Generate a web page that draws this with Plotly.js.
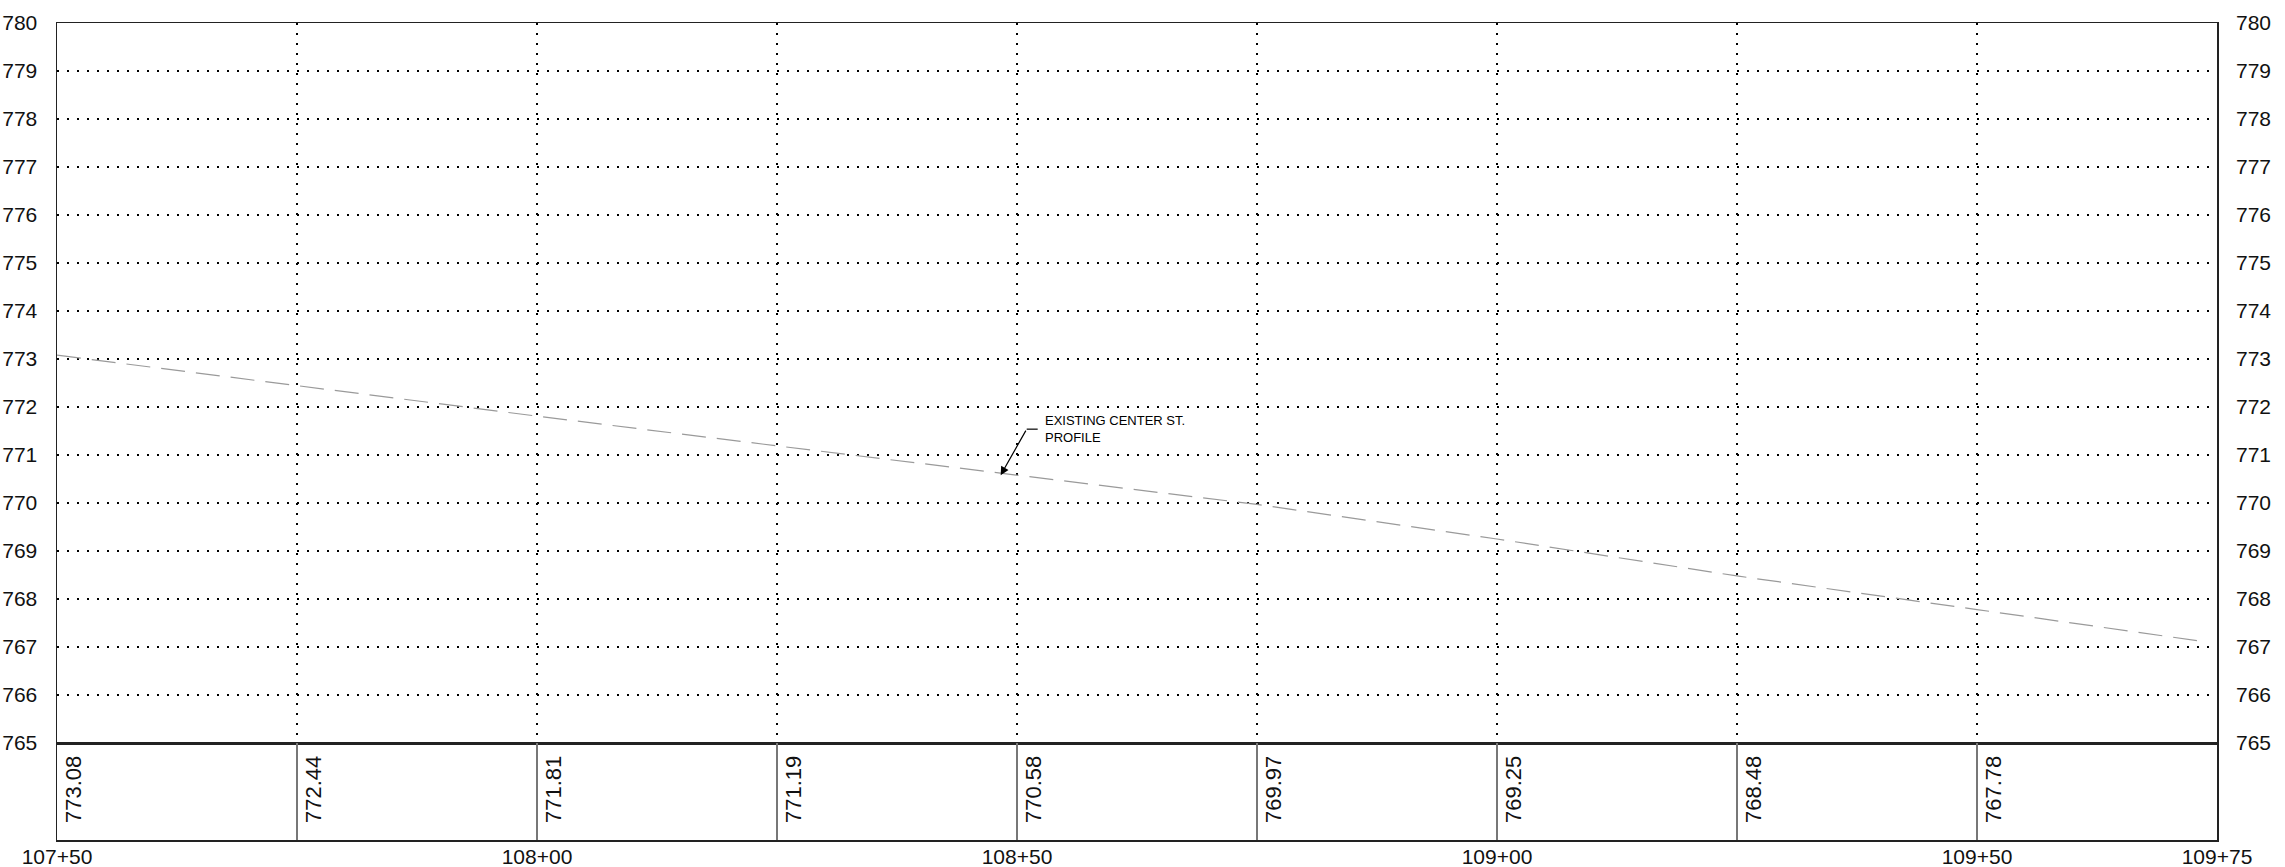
<!DOCTYPE html>
<html>
<head>
<meta charset="utf-8">
<script src="https://cdn.plot.ly/plotly-3.0.1.min.js"></script>
<style>html,body{margin:0;padding:0;background:#fff;}#chart{width:2285px;height:867px;}</style>
</head>
<body>
<div id="chart"></div>
<script>
// Data
const stations = [10750, 10775, 10800, 10825, 10850, 10875, 10900, 10925, 10950];
const bandElev = ["773.08", "772.44", "771.81", "771.19", "770.58", "769.97", "769.25", "768.48", "767.78"];
const profileX = [10750, 10775, 10800, 10825, 10850, 10875, 10900, 10925, 10950, 10973];
const profileY = [773.08, 772.44, 771.81, 771.19, 770.58, 769.97, 769.25, 768.48, 767.78, 767.13];
const xTickVals = [10750, 10775, 10800, 10825, 10850, 10875, 10900, 10925, 10950, 10975];
const xTickText = ["107+50", "", "108+00", "", "108+50", "", "109+00", "", "109+50", "109+75"];
const yTickVals = [765, 766, 767, 768, 769, 770, 771, 772, 773, 774, 775, 776, 777, 778, 779, 780];
const annText = "EXISTING CENTER ST.<br>PROFILE";
const annPoint = [10848.3, 770.58];

const FONT = "Liberation Sans, Arial, sans-serif";
const BAND = 97 / 817;

const traces = [
  {x: profileX, y: profileY, xaxis: 'x', yaxis: 'y', mode: 'lines',
   line: {color: '#9a9a9a', width: 1.2, dash: '24px,11px'}, hoverinfo: 'skip', showlegend: false},
  {x: [10750], y: [770], xaxis: 'x', yaxis: 'y3', mode: 'markers',
   marker: {opacity: 0}, hoverinfo: 'skip', showlegend: false},
  {x: [10750], y: [0.5], xaxis: 'x2', yaxis: 'y2', mode: 'markers',
   marker: {opacity: 0}, hoverinfo: 'skip', showlegend: false}
];

const annotations = stations.map((s, i) => ({
  x: s, y: 0.155, xref: 'x2', yref: 'y2', text: bandElev[i], textangle: -90,
  showarrow: false, xanchor: 'left', yanchor: 'bottom', xshift: 2,
  font: {family: FONT, size: 22, color: '#111'}
}));
annotations.push({
  x: annPoint[0], y: annPoint[1], xref: 'x', yref: 'y', text: '',
  showarrow: true, ax: 26, ay: -46, arrowhead: 2, arrowsize: 1.4, arrowwidth: 1.2,
  arrowcolor: '#000'
});
annotations.push({
  x: annPoint[0], y: annPoint[1], xref: 'x', yref: 'y', text: annText,
  showarrow: false, xanchor: 'left', yanchor: 'middle', align: 'left',
  xshift: 42, yshift: 46, font: {family: FONT, size: 13, color: '#000'}
});

const layout = {
  width: 2285, height: 867,
  margin: {l: 57, r: 68, t: 23, b: 27, pad: 0},
  paper_bgcolor: '#fff', plot_bgcolor: '#fff',
  showlegend: false,
  font: {family: FONT, size: 21, color: '#111'},
  xaxis: {
    domain: [0, 1], anchor: 'y', range: [10750, 10975],
    tickvals: xTickVals, showticklabels: false, ticks: '',
    showgrid: true, gridcolor: '#000', gridwidth: 1.5, griddash: '2px,8px',
    showline: true, linecolor: '#222', linewidth: 1.5, mirror: true, zeroline: false
  },
  yaxis: {
    domain: [BAND, 1], anchor: 'x', range: [765, 780],
    tickvals: yTickVals, ticks: '', ticklabelstandoff: 14,
    tickfont: {family: FONT, size: 21, color: '#111'},
    showgrid: true, gridcolor: '#000', gridwidth: 1.5, griddash: '2px,8px',
    showline: true, linecolor: '#222', linewidth: 1.5, mirror: true, zeroline: false
  },
  yaxis3: {
    overlaying: 'y', side: 'right', anchor: 'x', range: [765, 780],
    tickvals: yTickVals, ticks: '', ticklabelstandoff: 18,
    tickfont: {family: FONT, size: 21, color: '#111'},
    showgrid: false, zeroline: false, showline: false
  },
  xaxis2: {
    domain: [0, 1], anchor: 'y2', range: [10750, 10975],
    tickvals: xTickVals, ticktext: xTickText, ticks: '', ticklabelstandoff: -3,
    tickfont: {family: FONT, size: 21, color: '#111'},
    showgrid: true, gridcolor: '#777', gridwidth: 1.2,
    showline: true, linecolor: '#222', linewidth: 1.5, mirror: true, zeroline: false
  },
  yaxis2: {
    domain: [0, BAND], anchor: 'x2', range: [0, 1],
    showticklabels: false, ticks: '', showgrid: false, zeroline: false,
    showline: true, linecolor: '#222', linewidth: 1.5, mirror: true
  },
  shapes: [{
    type: 'line', xref: 'x', yref: 'y', xsizemode: 'pixel', ysizemode: 'pixel',
    xanchor: annPoint[0], yanchor: annPoint[1],
    x0: 26, y0: 46, x1: 37, y1: 46, line: {color: '#000', width: 1.2}
  }],
  annotations: annotations
};

Plotly.newPlot('chart', traces, layout, {staticPlot: true});
</script>
</body>
</html>
